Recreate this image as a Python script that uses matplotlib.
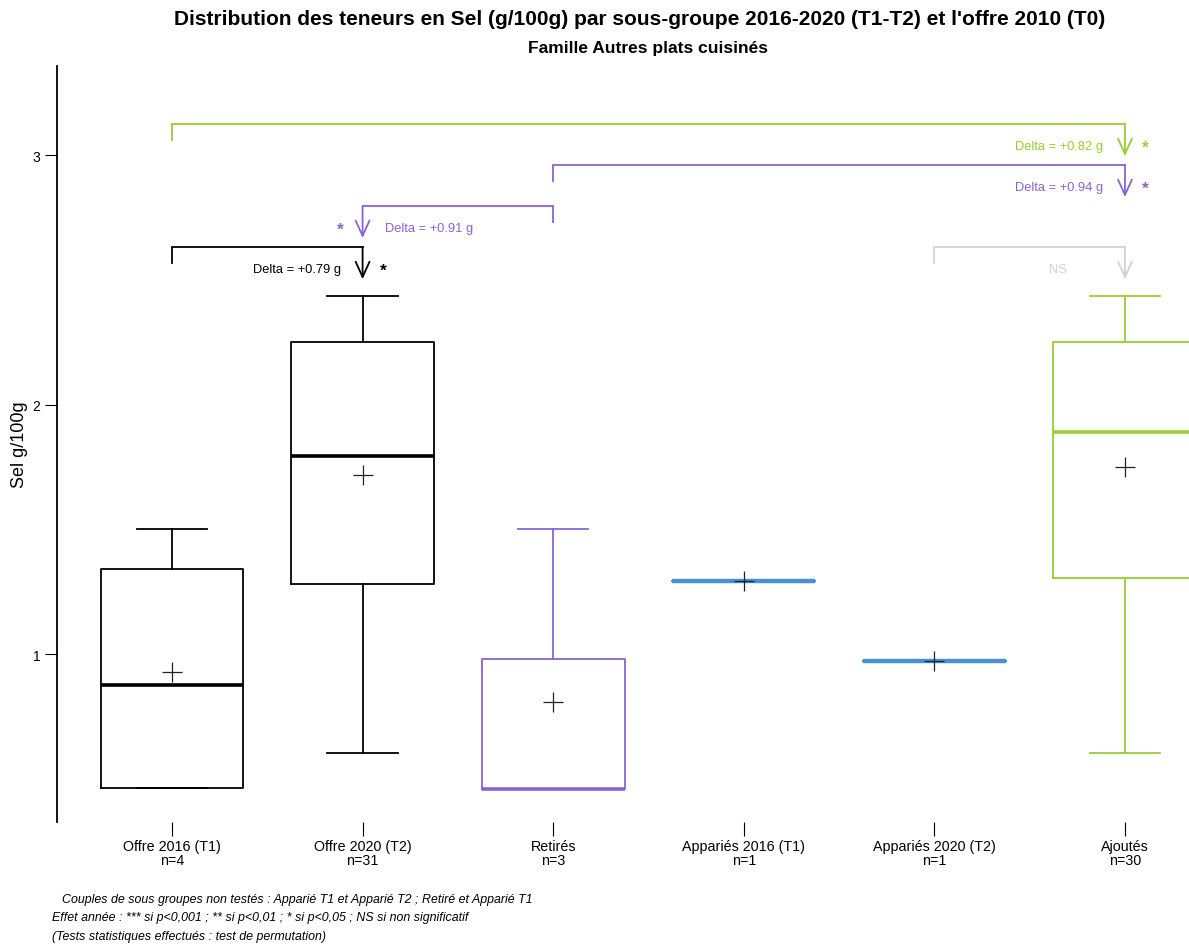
import numpy as np
import matplotlib.pyplot as plt

plt.rcParams['font.family'] = ['Liberation Sans', 'DejaVu Sans']

# groups
groups = ['Offre 2016 (T1)', 'Offre 2020 (T2)', 'Retirés', 'Appariés 2016 (T1)', 'Appariés 2020 (T2)', 'Ajoutés']
counts = [4, 31, 3, 1, 1, 30]
whislo = [0.463, 0.603, 0.459, 1.293, 0.972, 0.603]
q1 = [0.463, 1.280, 0.459, 1.293, 0.972, 1.305]
med = [0.876, 1.796, 0.459, 1.293, 0.972, 1.889]
q3 = [1.341, 2.250, 0.980, 1.293, 0.972, 2.250]
whishi = [1.501, 2.435, 1.501, 1.293, 0.972, 2.435]
means = [0.928, 1.720, 0.808, 1.293, 0.972, 1.750]
colors = ['black', 'black', '#8a63d2', '#4a90d4', '#4a90d4', '#9acd32']

# comparisons: from group, to group (index), bracket height, label, significance, colour
comp_from = [0, 2, 2, 0, 4]
comp_to = [1, 1, 5, 5, 5]
comp_y = [2.631, 2.796, 2.960, 3.124, 2.631]
comp_label = ['Delta = +0.79 g', 'Delta = +0.91 g', 'Delta = +0.94 g', 'Delta = +0.82 g', 'NS']
comp_sig = ['*', '*', '*', '*', '']
comp_color = ['black', '#8a63d2', '#8a63d2', '#9acd32', '#d3d3d3']

fig = plt.figure(figsize=(11.89, 9.45), dpi=100)
ax = fig.add_axes([0.048, 0.129, 0.952, 0.8])

pos = np.arange(1, len(groups) + 1)
for i in range(len(groups)):
    st = [dict(med=med[i], q1=q1[i], q3=q3[i], whislo=whislo[i], whishi=whishi[i],
               mean=means[i], fliers=[])]
    c = colors[i]
    single = counts[i] == 1
    ax.bxp(st, positions=[pos[i]], widths=0.75, showmeans=True, showcaps=True,
           boxprops=dict(color=c, lw=1.3),
           whiskerprops=dict(color=c, lw=1.3),
           capprops=dict(color=c, lw=1.3),
           medianprops=dict(color=c, lw=3.2 if single else 2.6),
           meanprops=dict(marker='+', markeredgecolor='#222222', markersize=14, markeredgewidth=0.9),
           capwidths=0.37)

# significance brackets
for k in range(len(comp_from)):
    xa = pos[comp_from[k]]
    xb = pos[comp_to[k]]
    y = comp_y[k]
    c = comp_color[k]
    ax.plot([xa, xa, xb], [y - 0.064, y, y], color=c, lw=1.3, solid_joinstyle='miter')
    ax.annotate('', xy=(xb, y - 0.128), xytext=(xb, y),
                arrowprops=dict(arrowstyle='->,head_length=1.1,head_width=0.5', color=c, lw=1.3,
                                shrinkA=0, shrinkB=0))
    ty = y - 0.088
    if comp_label[k] == 'NS':
        ax.text(xb - 0.35, ty, comp_label[k], color=c, fontsize=9.3, ha='center', va='center')
    elif xb > xa:
        ax.text(xb - 0.115, ty, comp_label[k], color=c, fontsize=9.3, ha='right', va='center')
        ax.text(xb + 0.09, ty - 0.005, comp_sig[k], color=c, fontsize=12.5, ha='left', va='center', fontweight='bold')
    else:
        ax.text(xb + 0.12, ty, comp_label[k], color=c, fontsize=9.3, ha='left', va='center')
        ax.text(xb - 0.1, ty - 0.005, comp_sig[k], color=c, fontsize=12.5, ha='right', va='center', fontweight='bold')

ax.set_xlim(0.397, 6.336)
ax.set_ylim(0.327, 3.357)
ax.set_yticks([1, 2, 3])
ax.set_yticklabels(['1', '2', '3'])
ax.set_xticks(pos)
ax.set_xticklabels([f'{g}\nn={n}' for g, n in zip(groups, counts)], fontsize=10.3, linespacing=1.05)
ax.tick_params(axis='x', length=10, width=0.8, pad=2)
ax.tick_params(axis='y', length=9, width=0.8, labelsize=10, pad=3)
for s in ['top', 'right', 'bottom']:
    ax.spines[s].set_visible(False)
ax.spines['left'].set_linewidth(1.3)
ax.set_ylabel('Sel g/100g', fontsize=13, labelpad=3)

fig.text(0.538, 0.979, "Distribution des teneurs en Sel (g/100g) par sous-groupe 2016-2020 (T1-T2) et l'offre 2010 (T0)",
         ha='center', va='center', fontsize=15, fontweight='bold')
fig.text(0.545, 0.949, 'Famille Autres plats cuisinés', ha='center', va='center', fontsize=12.5, fontweight='bold')

fig.text(0.052, 0.048, 'Couples de sous groupes non testés : Apparié T1 et Apparié T2 ; Retiré et Apparié T1',
         fontsize=8.9, style='italic', va='center')
fig.text(0.044, 0.029, 'Effet année : *** si p<0,001 ; ** si p<0,01 ; * si p<0,05 ; NS si non significatif',
         fontsize=8.9, style='italic', va='center')
fig.text(0.044, 0.008, '(Tests statistiques effectués : test de permutation)',
         fontsize=8.9, style='italic', va='center')

fig.savefig('out.png', dpi=100)
